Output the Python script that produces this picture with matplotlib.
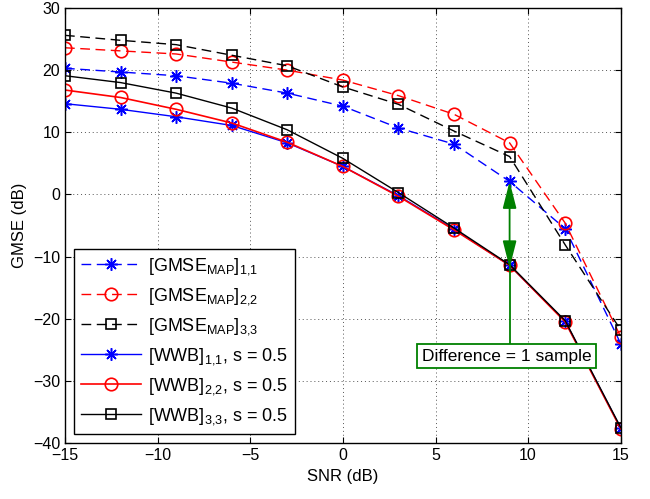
import matplotlib
matplotlib.use("Agg")
import matplotlib.pyplot as plt
from matplotlib.patches import ArrowStyle

plt.rcParams['font.family'] = ['Liberation Sans', 'DejaVu Sans']
plt.rcParams['mathtext.fontset'] = 'custom'
plt.rcParams['mathtext.rm'] = 'Liberation Sans'
plt.rcParams['mathtext.it'] = 'Liberation Sans'

snr = [-15, -12, -9, -6, -3, 0, 3, 6, 9, 12, 15]
gmse11 = [20.3, 19.7, 19.1, 17.9, 16.3, 14.2, 10.7, 8.1, 2.1, -5.5, -24.0]
gmse22 = [23.6, 23.1, 22.6, 21.3, 20.0, 18.4, 15.9, 12.9, 8.3, -4.6, -22.9]
gmse33 = [25.6, 24.8, 24.1, 22.4, 20.7, 17.3, 14.5, 10.2, 6.1, -8.1, -21.8]
wwb11 = [14.6, 13.7, 12.5, 11.1, 8.3, 4.5, -0.2, -5.6, -11.4, -20.4, -37.6]
wwb22 = [16.8, 15.6, 13.7, 11.5, 8.4, 4.5, -0.3, -5.7, -11.4, -20.5, -37.7]
wwb33 = [19.1, 18.0, 16.3, 13.9, 10.4, 5.8, 0.3, -5.4, -11.3, -20.3, -37.5]

labels = [r'[GMSE$_{\mathrm{MAP}}$]$_{\mathrm{1{,}1}}$',
          r'[GMSE$_{\mathrm{MAP}}$]$_{\mathrm{2{,}2}}$',
          r'[GMSE$_{\mathrm{MAP}}$]$_{\mathrm{3{,}3}}$',
          r'[WWB]$_{\mathrm{1{,}1}}$, s = 0.5',
          r'[WWB]$_{\mathrm{2{,}2}}$, s = 0.5',
          r'[WWB]$_{\mathrm{3{,}3}}$, s = 0.5']

fig = plt.figure(figsize=(6.5, 4.99), dpi=100)
ax = fig.add_axes([0.1, 0.112, 0.855, 0.872])

dash = (0, (7, 4))
star = (8, 2, 0)
ms_star, ms_o, ms_s = 9, 9, 7.5
ax.plot(snr, gmse11, color='blue', ls=dash, lw=1, marker=star, ms=ms_star, mec='blue', mew=1.1, label=labels[0])
ax.plot(snr, gmse22, color='red', ls=dash, lw=1, marker='o', ms=ms_o, mfc='none', mec='red', mew=1.2, label=labels[1])
ax.plot(snr, gmse33, color='black', ls=dash, lw=1, marker='s', ms=ms_s, mfc='none', mec='black', mew=1.2, label=labels[2])
ax.plot(snr, wwb11, color='blue', ls='-', lw=1, marker=star, ms=ms_star, mec='blue', mew=1.1, label=labels[3])
ax.plot(snr, wwb22, color='red', ls='-', lw=1.2, marker='o', ms=ms_o, mfc='none', mec='red', mew=1.2, label=labels[4])
ax.plot(snr, wwb33, color='black', ls='-', lw=1, marker='s', ms=ms_s, mfc='none', mec='black', mew=1.2, label=labels[5])

green = '#008000'
ax.annotate('', xy=(9, gmse11[8]), xytext=(9, wwb11[8] - 0.4),
            arrowprops=dict(arrowstyle=ArrowStyle('<|-|>', head_length=1.1, head_width=0.28),
                            color=green, lw=1.3, mutation_scale=15, shrinkA=0, shrinkB=0))
ax.plot([9, 9], [wwb11[8], -24.5], color=green, lw=1.3)
ax.text(8.85, -26.0, 'Difference = 1 sample', fontsize=12.5, ha='center', va='center',
        bbox=dict(boxstyle='square,pad=0.28', fc='white', ec=green, lw=1.3))

ax.set_xlim(-15, 15)
ax.set_ylim(-40, 30)
ax.set_xticks([-15, -10, -5, 0, 5, 10, 15])
ax.set_yticks([-40, -30, -20, -10, 0, 10, 20, 30])
ax.set_xticklabels(['\u221215', '\u221210', '\u22125', '0', '5', '10', '15'])
ax.set_yticklabels(['\u221240', '\u221230', '\u221220', '\u221210', '0', '10', '20', '30'])
ax.tick_params(direction='in', top=True, right=True, labelsize=11.5, length=4)
ax.grid(True, ls=(0, (1, 3)), color='#555555', lw=0.7)
ax.set_xlabel('SNR (dB)', fontsize=12)
ax.set_ylabel('GMSE (dB)', fontsize=12)
for sp in ax.spines.values():
    sp.set_linewidth(1)

leg = ax.legend(loc='lower left', bbox_to_anchor=(0.0, 0.0), fontsize=13,
                fancybox=False, edgecolor='black', framealpha=1,
                handlelength=3.3, labelspacing=0.5, borderpad=0.4, handletextpad=0.4)
leg.get_frame().set_linewidth(1)

fig.savefig('out.png', dpi=100)
